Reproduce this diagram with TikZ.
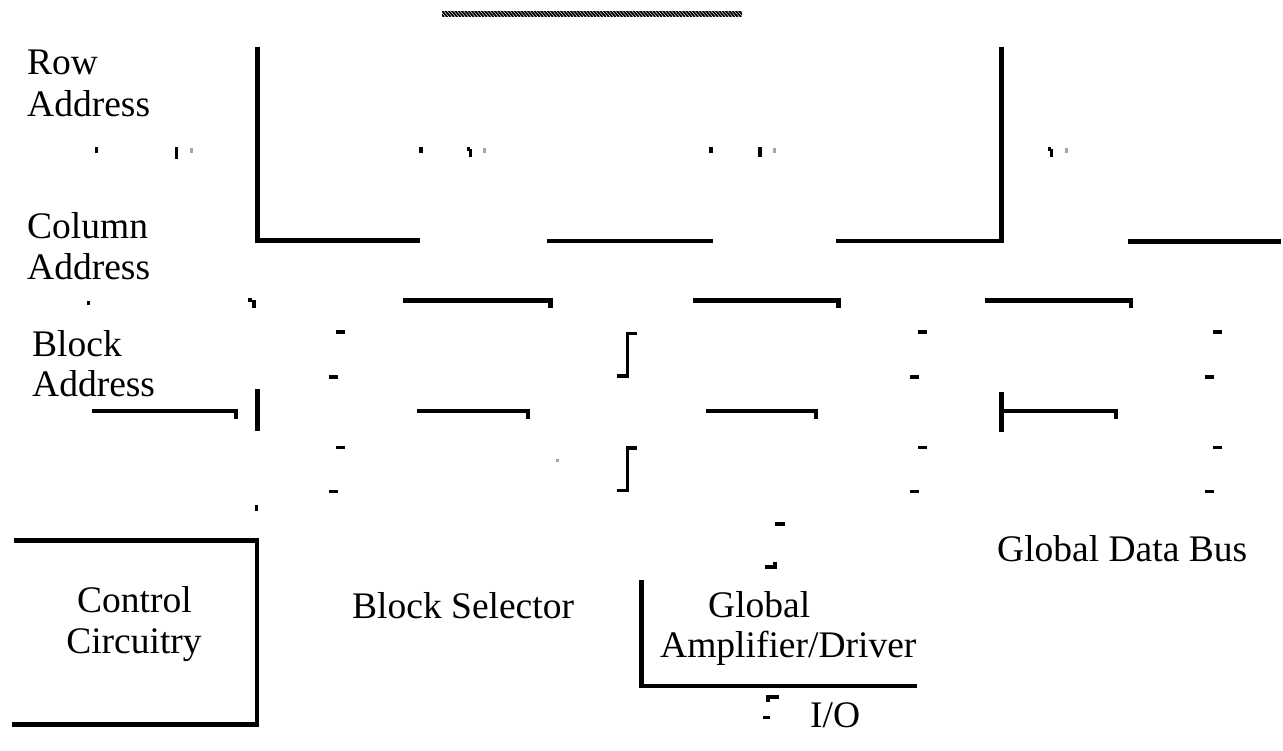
\documentclass[tikz,border=0pt]{standalone}
\usepackage{fontspec}
\setmainfont{Liberation Serif}
\begin{document}
\begin{tikzpicture}[x=1pt,y=-1pt,
  wire/.style={line width=4.5pt,line join=miter},
  thinwire/.style={line width=3.5pt,line join=miter},
  lbl/.style={inner sep=0pt,anchor=base west,font=\fontsize{37.5}{41}\selectfont},
  speck/.style={fill=black},
  ghost/.style={fill=black!35}]
\useasboundingbox (0,0) rectangle (1283,751);

% hatched bar at the top
\begin{scope}
  \clip (442,11.5) rectangle (742,16.5);
  \foreach \i in {0,...,92}
    \draw[line width=1.8pt] (438+\i*3.3,10) -- ++(6,7);
\end{scope}

% labels
\node[lbl] (row1) at (27,75) {Row};
\node[lbl] (row2) at (27,117) {Address};
\node[lbl] (col1) at (27,239) {Column};
\node[lbl] (col2) at (27,280) {Address};
\node[lbl] (blk1) at (32,356) {Block};
\node[lbl] (blk2) at (32,396) {Address};
\node[lbl,anchor=base] (ctl1) at (134.5,612) {Control};
\node[lbl,anchor=base] (ctl2) at (134,653) {Circuitry};
\node[lbl] (bsel) at (352,618) {Block Selector};
\node[lbl] (gad1) at (708,617) {Global};
\node[lbl] (gad2) at (660,657) {Amplifier/Driver};
\node[lbl] (gbus) at (997,561) {Global Data Bus};
\node[lbl] (io) at (810,727) {I/O};

% long wires
\draw[wire] (257.5,47) -- (257.5,240.5) -- (420,240.5);
\draw[wire] (547,241) -- (713,241);
\draw[wire] (836,241) -- (1001.5,241) -- (1001.5,47);
\draw[wire] (1128,241.5) -- (1281,241.5);

\draw[wire] (403,300.5) -- (550.5,300.5) -- (550.5,308);
\draw[wire] (693,300.5) -- (838.5,300.5) -- (838.5,308);
\draw[wire] (985,300.5) -- (1131,300.5) -- (1131,308);

\draw[wire] (92,411) -- (236,411) -- (236,419);
\draw[wire] (417,411) -- (528,411) -- (528,419);
\draw[wire] (706,411) -- (816,411) -- (816,419);
\draw[wire] (1001.5,411) -- (1116,411) -- (1116,419);
\draw[wire] (257.5,389) -- (257.5,431);
\draw[wire] (1001.5,392) -- (1001.5,432);

% boxes
\draw[wire] (14,540.5) -- (257,540.5) -- (257,724.5) -- (12,724.5);
\draw[wire] (641.5,580) -- (641.5,686) -- (917,686);

% brackets
\draw[thinwire] (637,333.5) -- (627.5,333.5) -- (627.5,376) -- (617,376);
\draw[thinwire] (637,448) -- (627.5,448) -- (627.5,490.5) -- (617,490.5);

% short dashes
\foreach \x/\y in {336/330.5,329/375.5,918/330.5,910/375.5,1213/330.5,1205/375.5,
                   336/445.5,329/489.5,918/445.5,910/489.5,1213/445.5,1205/489.5}
  \fill (\x,\y) rectangle ++(9,3.5);

% specks and hooks
\fill[speck] (87,301) rectangle (90,305);
\fill[speck] (248,298) rectangle (252,302);
\fill[speck] (252,300) rectangle (256,308);
\fill[speck] (255,505) rectangle (258,511);

\fill[speck] (95,147) rectangle (98,153);
\fill[speck] (175,147) rectangle (178,159);
\fill[ghost] (190,148) rectangle (193,153);
\fill[speck] (419,147) rectangle (423,153);
\fill[speck] (467,147) rectangle (470,151);
\fill[speck] (469,149) rectangle (472,157);
\fill[ghost] (483,148) rectangle (486,153);
\fill[speck] (709,147) rectangle (713,153);
\fill[speck] (758,147) rectangle (762,157);
\fill[ghost] (773,148) rectangle (776,153);
\fill[speck] (1048,147) rectangle (1051,151);
\fill[speck] (1050,149) rectangle (1053,157);
\fill[ghost] (1065,148) rectangle (1068,153);
\fill[ghost] (556,459) rectangle (559,462);

\fill[speck] (775,522) rectangle (785,525.5);
\draw[thinwire] (765,567) -- (775,567) -- (775,562);
\draw[thinwire] (779,697) -- (768,697) -- (768,702);
\fill[speck] (763,716) rectangle (770,719);
\end{tikzpicture}
\end{document}
